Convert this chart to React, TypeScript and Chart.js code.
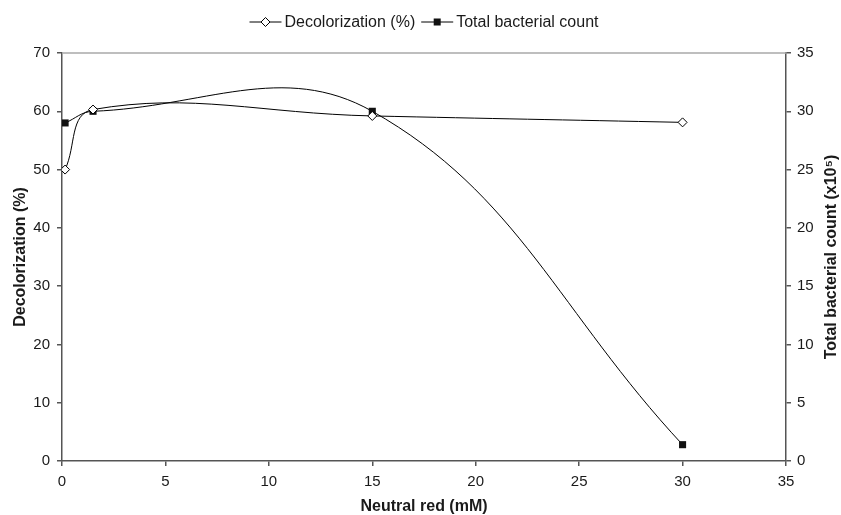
import React, { useEffect, useRef } from "react";
import { Chart, registerables } from "chart.js";

Chart.register(...registerables);

const neutralRed = [0.15, 1.5, 15, 30];
const decolorization = [50, 60.3, 59.2, 58.1];
const bacterialCount = [29, 30, 30, 1.4];

const xTitle = "Neutral red (mM)";
const leftTitle = "Decolorization (%)";
const rightTitle = "Total bacterial count (x10\u2075)";
const legendLabels = ["Decolorization (%)", "Total bacterial count"];

const FONT = "'Liberation Sans', Arial, sans-serif";
const TEXT = "#1a1a1a";
const AXIS = "#555555";

function drawMarker(ctx: CanvasRenderingContext2D, kind: string, x: number, y: number) {
  ctx.save();
  ctx.lineWidth = 1;
  ctx.strokeStyle = "#000";
  if (kind === "diamond") {
    const r = 4.5;
    ctx.beginPath();
    ctx.moveTo(x - r, y);
    ctx.lineTo(x, y - r);
    ctx.lineTo(x + r, y);
    ctx.lineTo(x, y + r);
    ctx.closePath();
    ctx.fillStyle = "#fff";
    ctx.fill();
    ctx.stroke();
  } else {
    const s = 3.5;
    ctx.fillStyle = "#111";
    ctx.fillRect(x - s, y - s, 2 * s, 2 * s);
  }
  ctx.restore();
}

const decorPlugin = {
  id: "decor",
  beforeDatasetsDraw(chart: any) {
    const { ctx, chartArea } = chart;
    ctx.save();
    ctx.strokeStyle = "#a8a8a8";
    ctx.lineWidth = 1.5;
    ctx.beginPath();
    ctx.moveTo(chartArea.left, chartArea.top);
    ctx.lineTo(chartArea.right, chartArea.top);
    ctx.stroke();
    ctx.restore();
  },
  afterDraw(chart: any) {
    const { ctx, chartArea } = chart;
    ctx.save();
    // legend
    ctx.font = `16px ${FONT}`;
    const lineW = 32;
    const gap = 3;
    const itemGap = 6;
    const widths = legendLabels.map((t) => ctx.measureText(t).width);
    const total = widths.reduce((a, w) => a + lineW + gap + w, 0) + itemGap;
    let x = (chartArea.left + chartArea.right) / 2 - total / 2;
    const y = 22;
    const kinds = ["diamond", "square"];
    legendLabels.forEach((t, i) => {
      ctx.strokeStyle = "#000";
      ctx.lineWidth = 1;
      ctx.beginPath();
      ctx.moveTo(x, y);
      ctx.lineTo(x + lineW, y);
      ctx.stroke();
      drawMarker(ctx, kinds[i], x + lineW / 2, y);
      ctx.fillStyle = TEXT;
      ctx.textAlign = "left";
      ctx.textBaseline = "middle";
      ctx.fillText(t, x + lineW + gap, y + 1);
      x += lineW + gap + widths[i] + itemGap;
    });
    // right axis title
    ctx.font = `bold 16px ${FONT}`;
    ctx.translate(832, (chartArea.top + chartArea.bottom) / 2);
    ctx.rotate(-Math.PI / 2);
    ctx.textAlign = "center";
    ctx.textBaseline = "middle";
    ctx.fillStyle = TEXT;
    ctx.fillText(rightTitle, 0, 0);
    ctx.restore();
  },
};

export default function App() {
  const canvasRef = useRef<HTMLCanvasElement | null>(null);

  useEffect(() => {
    document.body.style.margin = "0";
    const canvas = canvasRef.current;
    if (!canvas) return;
    const gridOpts = {
      display: true,
      drawOnChartArea: false,
      drawTicks: true,
      tickLength: 5,
      color: AXIS,
      lineWidth: 1.5,
    };
    const borderOpts = { display: true, color: AXIS, width: 1.5 };
    const tickFont = { family: FONT, size: 15 };
    const chart = new Chart(canvas, {
      type: "line",
      data: {
        datasets: [
          {
            label: legendLabels[0],
            data: neutralRed.map((v, i) => ({ x: v, y: decolorization[i] })),
            yAxisID: "y",
            borderColor: "#000",
            borderWidth: 1,
            backgroundColor: "#fff",
            pointStyle: "rectRot",
            pointRadius: 4.5,
            pointBorderWidth: 1,
            pointBorderColor: "#000",
            pointBackgroundColor: "#fff",
            tension: 0.4,
            fill: false,
          },
          {
            label: legendLabels[1],
            data: neutralRed.map((v, i) => ({ x: v, y: bacterialCount[i] })),
            yAxisID: "y1",
            borderColor: "#000",
            borderWidth: 1,
            backgroundColor: "#111",
            pointStyle: "rect",
            pointRadius: 5,
            pointBorderWidth: 0,
            pointBackgroundColor: "#111",
            tension: 0.4,
            fill: false,
          },
        ],
      },
      options: {
        responsive: false,
        animation: false,
        layout: { padding: { top: 53, left: 0, right: 0, bottom: 0 } },
        plugins: {
          legend: { display: false },
          tooltip: { enabled: false },
        },
        scales: {
          x: {
            type: "linear",
            min: 0,
            max: 35,
            ticks: { stepSize: 5, font: tickFont, color: TEXT, padding: 7, maxRotation: 0 },
            grid: gridOpts,
            border: borderOpts,
            title: {
              display: true,
              text: xTitle,
              color: TEXT,
              font: { family: FONT, size: 16, weight: "bold", lineHeight: 1 },
              padding: { top: 0, bottom: 0 },
            },
            afterFit(scale: any) {
              scale.height = 54;
            },
          },
          y: {
            type: "linear",
            position: "left",
            min: 0,
            max: 70,
            ticks: { stepSize: 10, font: tickFont, color: TEXT, padding: 7 },
            grid: gridOpts,
            border: borderOpts,
            title: {
              display: true,
              text: leftTitle,
              color: TEXT,
              font: { family: FONT, size: 16, weight: "bold", lineHeight: 1 },
              padding: { top: 13, bottom: 0 },
            },
            afterFit(scale: any) {
              scale.width = 62;
            },
          },
          y1: {
            type: "linear",
            position: "right",
            min: 0,
            max: 35,
            ticks: { stepSize: 5, font: tickFont, color: TEXT, padding: 6 },
            grid: gridOpts,
            border: borderOpts,
            afterFit(scale: any) {
              scale.width = 55;
            },
          },
        },
      },
      plugins: [decorPlugin],
    } as any);
    return () => chart.destroy();
  }, []);

  return (
    <div style={{ width: 841, height: 515 }}>
      <canvas ref={canvasRef} width={841} height={515} style={{ display: "block" }} />
    </div>
  );
}
